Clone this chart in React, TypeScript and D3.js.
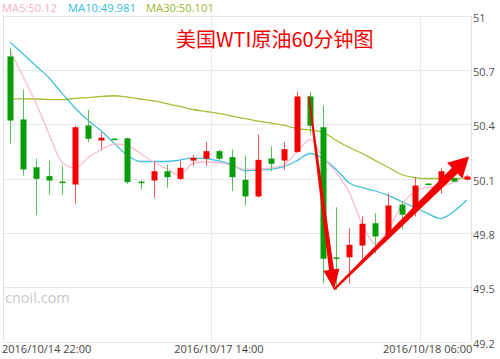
import React from "react";
import * as d3 from "d3";

const W = 500;
const H = 359;

// candle data (index 0..35)
const opens = [50.774, 50.426, 50.162, 50.113, 50.083, 50.067, 50.393, 50.310, 50.320, 50.322, 50.083, 50.089, 50.140, 50.098, 50.199, 50.209, 50.251, 50.218, 50.093, 50.001, 50.210, 50.199, 50.247, 50.553, 50.383, 49.664, 49.665, 49.730, 49.853, 49.785, 49.956, 49.933, 50.072, 50.071, 50.102, 50.094];
const closes = [50.420, 50.150, 50.098, 50.089, 50.078, 50.383, 50.319, 50.325, 50.318, 50.080, 50.080, 50.140, 50.107, 50.159, 50.214, 50.251, 50.209, 50.107, 50.001, 50.203, 50.181, 50.262, 50.553, 50.391, 49.657, 49.658, 49.734, 49.850, 49.780, 49.951, 49.900, 50.061, 50.070, 50.140, 50.083, 50.111];
const highs = [50.823, 50.591, 50.210, 50.199, 50.172, 50.392, 50.479, 50.356, 50.322, 50.325, 50.090, 50.195, 50.177, 50.199, 50.229, 50.303, 50.260, 50.260, 50.227, 50.343, 50.278, 50.303, 50.580, 50.580, 50.503, 49.941, 49.826, 49.890, 49.908, 50.019, 49.975, 50.107, 50.074, 50.159, 50.105, 50.119];
const lows = [50.293, 50.117, 49.900, 50.012, 50.011, 49.960, 50.300, 50.260, 50.316, 50.071, 50.040, 49.993, 50.049, 50.089, 50.170, 50.170, 50.203, 50.030, 49.951, 49.995, 50.140, 50.148, 50.240, 50.347, 49.522, 49.485, 49.519, 49.657, 49.687, 49.776, 49.822, 49.890, 50.068, 50.015, 50.080, 50.089];

const ma5 = [50.807, 50.663, 50.514, 50.343, 50.188, 50.158, 50.216, 50.260, 50.290, 50.282, 50.238, 50.191, 50.155, 50.117, 50.183, 50.191, 50.188, 50.172, 50.152, 50.152, 50.158, 50.177, 50.249, 50.315, 50.216, 50.133, 50.023, 49.846, 49.741, 49.818, 49.951, 50.028, 50.050, 50.056, 50.078, 50.115];
const ma10 = [50.853, 50.787, 50.721, 50.655, 50.569, 50.488, 50.420, 50.362, 50.293, 50.227, 50.194, 50.194, 50.194, 50.202, 50.213, 50.210, 50.197, 50.177, 50.144, 50.147, 50.152, 50.166, 50.199, 50.238, 50.210, 50.150, 50.075, 50.050, 50.031, 50.006, 49.973, 49.940, 49.907, 49.879, 49.918, 49.981];
const ma30 = [50.540, 50.540, 50.539, 50.536, 50.535, 50.542, 50.547, 50.553, 50.557, 50.549, 50.539, 50.528, 50.514, 50.498, 50.481, 50.470, 50.459, 50.445, 50.431, 50.417, 50.406, 50.393, 50.376, 50.368, 50.354, 50.310, 50.271, 50.238, 50.199, 50.161, 50.122, 50.105, 50.100, 50.100, 50.100, 50.101];

const yTicks = [51, 50.7, 50.4, 50.1, 49.8, 49.5, 49.2];
const timeLabels = ["2016/10/14 22:00", "2016/10/17 14:00", "2016/10/18 06:00"];
const timeLabelIdx = [0, 16, 32];

const legendItems = [
  { label: "MA5:50.12", color: "#f5b0c5", x: 2 },
  { label: "MA10:49.981", color: "#33bdd8", x: 68 },
  { label: "MA30:50.101", color: "#97b72a", x: 146 },
];

// annotation arrows in (candle index, price)
const arrow1 = { from: [22.9, 50.553], to: [24.83, 49.487] };
const arrow2 = { from: [24.83, 49.487], to: [35.17, 50.221] };

const FONT = "'Open Sans', 'Noto Sans', sans-serif";

function arrowPoints(x0: number, y0: number, x1: number, y1: number, w0: number, w1: number, hl: number, hw: number) {
  const dx = x1 - x0, dy = y1 - y0;
  const len = Math.hypot(dx, dy);
  const ux = dx / len, uy = dy / len;
  const nx = -uy, ny = ux;
  const bx = x1 - ux * hl, by = y1 - uy * hl;
  const pts = [
    [x0 + (nx * w0) / 2, y0 + (ny * w0) / 2],
    [bx + (nx * w1) / 2, by + (ny * w1) / 2],
    [bx + (nx * hw) / 2, by + (ny * hw) / 2],
    [x1, y1],
    [bx - (nx * hw) / 2, by - (ny * hw) / 2],
    [bx - (nx * w1) / 2, by - (ny * w1) / 2],
    [x0 - (nx * w0) / 2, y0 - (ny * w0) / 2],
  ];
  return pts.map((p) => p.join(",")).join(" ");
}

export default function App() {
  const left = 3.5, right = 471.5, top = 15.5, bottom = 341.5;
  const n = opens.length;
  const x = d3.scaleLinear().domain([-0.5, n - 0.5]).range([3.5, 473.3]);
  const y = d3.scaleLinear().domain([49.2, 51]).range([bottom, top]);

  const line = d3
    .line<number>()
    .x((_, i) => x(i))
    .y((d) => y(d))
    .curve(d3.curveMonotoneX);

  const red = "#f40000";
  const green = "#0a9d0a";

  const a1 = arrowPoints(x(arrow1.from[0]), y(arrow1.from[1]), x(arrow1.to[0]), y(arrow1.to[1]), 1.5, 5, 20, 16);
  const a2 = arrowPoints(x(arrow2.from[0]), y(arrow2.from[1]), x(arrow2.to[0]), y(arrow2.to[1]), 2, 8, 20, 22);

  return (
    <svg width={W} height={H} style={{ position: "absolute", left: 0, top: 0, background: "#fff" }} fontFamily={FONT}>
      {/* grid */}
      {yTicks.map((t) => (
        <line key={"h" + t} x1={left} x2={right} y1={Math.round(y(t)) + 0.5} y2={Math.round(y(t)) + 0.5} stroke="#e9e9e9" />
      ))}
      {timeLabelIdx.slice(1).map((i) => (
        <line key={"v" + i} x1={Math.round(x(i - 0.5)) - 0.5} x2={Math.round(x(i - 0.5)) - 0.5} y1={top} y2={bottom} stroke="#e9e9e9" />
      ))}
      <line x1={left} x2={left} y1={top} y2={bottom} stroke="#e4e4e4" />
      <line x1={right} x2={right} y1={top} y2={bottom} stroke="#e4e4e4" />

      {/* watermark */}
      <text x={5} y={303} fontSize={14.5} fill="#c9c9c9">cnoil.com</text>

      {/* MA lines */}
      <path d={line(ma30) || ""} fill="none" stroke="#a3bf35" strokeWidth={1.3} />
      <path d={line(ma10) || ""} fill="none" stroke="#41c1dc" strokeWidth={1.3} />
      <path d={line(ma5) || ""} fill="none" stroke="#f7bccc" strokeWidth={1.3} />

      {/* candles */}
      {opens.map((o, i) => {
        const c = closes[i];
        const up = c >= o;
        const cx = Math.round(x(i)) + 0.5;
        const yt = y(Math.max(o, c));
        const yb = y(Math.min(o, c));
        const bh = Math.max(1.5, yb - yt);
        return (
          <g key={i}>
            <line x1={cx} x2={cx} y1={y(highs[i])} y2={y(lows[i])} stroke={up ? "#f55" : "#55c455"} strokeWidth={1} />
            <rect x={cx - 3} y={yt} width={6} height={bh} fill={up ? red : green} />
          </g>
        );
      })}

      {/* arrows */}
      <polygon points={a1} fill="#f40000" />
      <polygon points={a2} fill="#f40000" />

      {/* title */}
      <text x={176} y={47} fontSize={20} fill="#f40000" fontFamily="'Noto Sans CJK SC', sans-serif">美国WTI原油60分钟图</text>

      {/* legend */}
      {legendItems.map((l) => (
        <text key={l.label} x={l.x} y={12} fontSize={11.2} fill={l.color}>{l.label}</text>
      ))}

      {/* y axis labels */}
      {yTicks.map((t) => (
        <text key={"yl" + t} x={473} y={Math.round(y(t)) + 6} fontSize={11} fill="#555">{String(t)}</text>
      ))}

      {/* x labels */}
      {timeLabelIdx.map((idx, k) => (
        <text key={"xl" + k} x={k === 0 ? 2 : x(idx)} y={353} fontSize={11} fill="#444" textAnchor={k === 0 ? "start" : "middle"}>
          {timeLabels[k]}
        </text>
      ))}
    </svg>
  );
}
